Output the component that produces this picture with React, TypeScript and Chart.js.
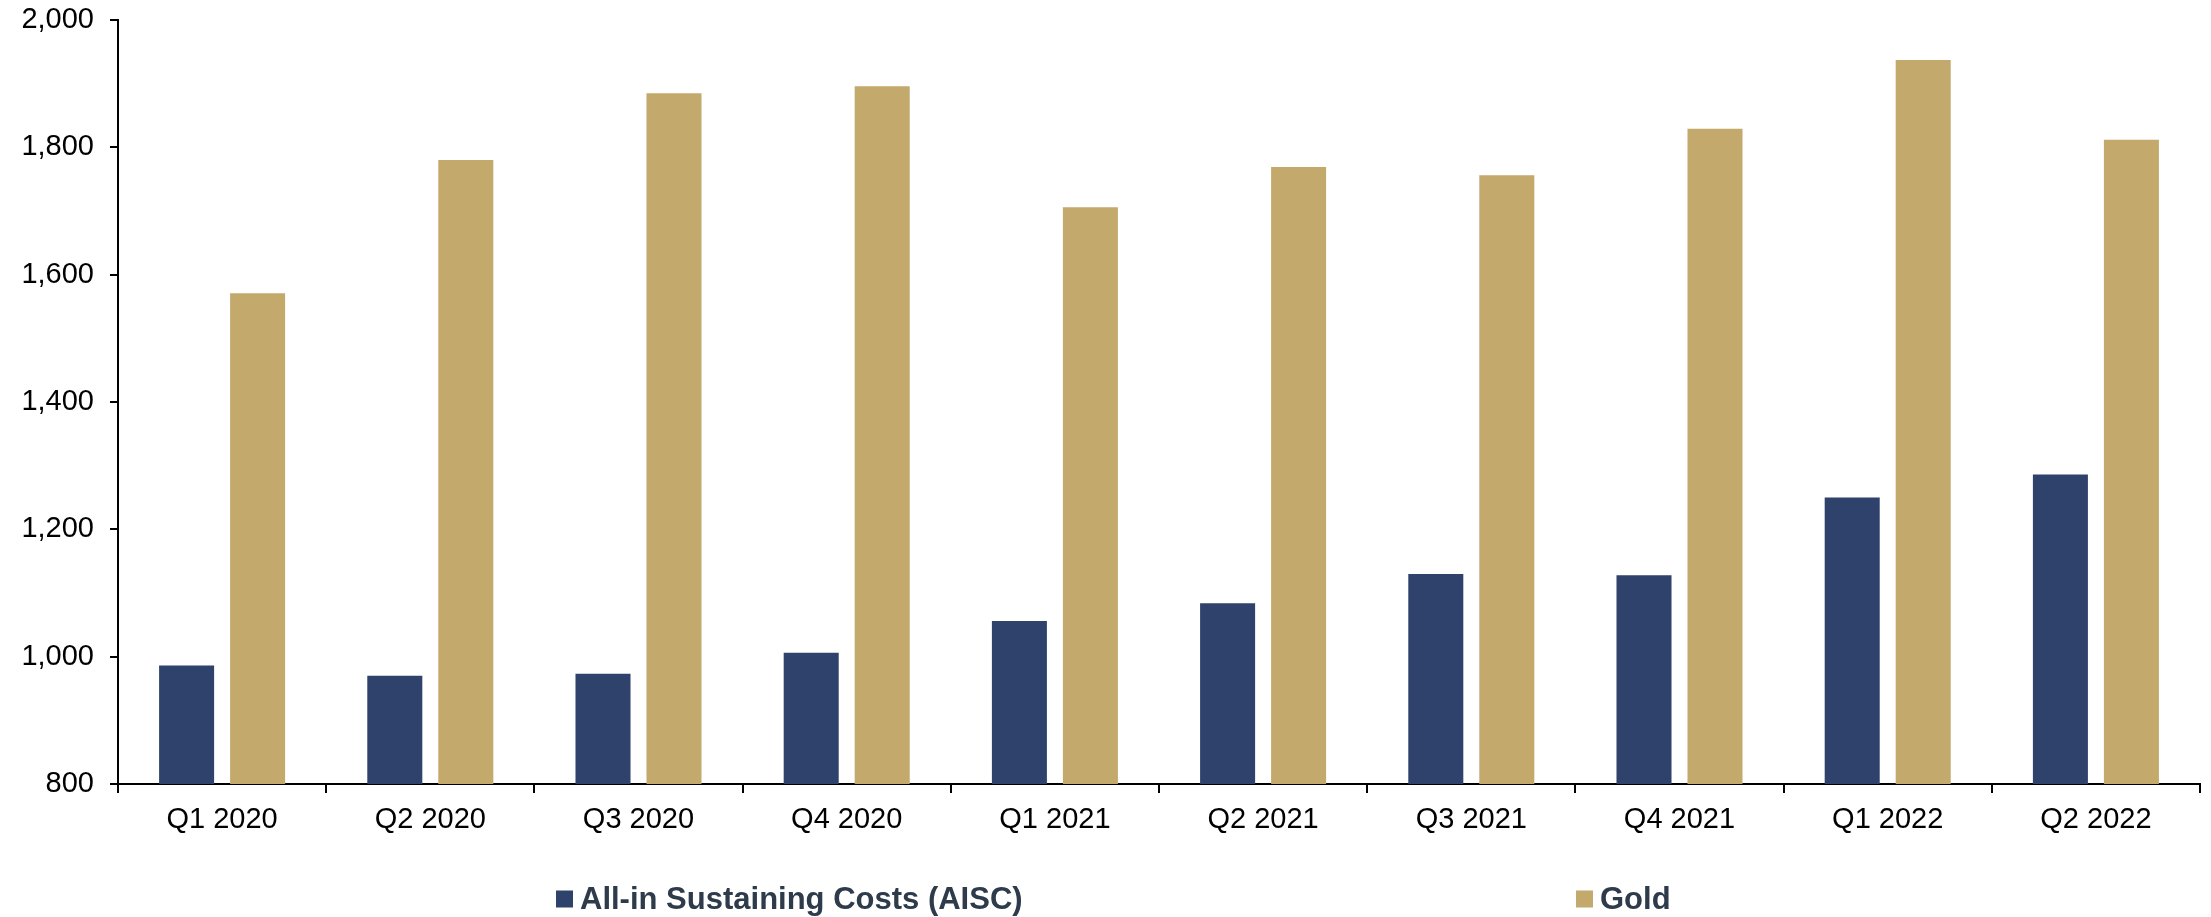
import React, { useEffect, useRef } from "react";
import { Chart, registerables } from "chart.js";

Chart.register(...registerables);

const categories = [
  "Q1 2020", "Q2 2020", "Q3 2020", "Q4 2020", "Q1 2021",
  "Q2 2021", "Q3 2021", "Q4 2021", "Q1 2022", "Q2 2022",
];
const aiscValues = [986, 970, 973, 1006, 1056, 1084, 1130, 1128, 1250, 1286];
const goldValues = [1571, 1780, 1885, 1896, 1706, 1769, 1756, 1829, 1937, 1812];
const seriesLabels = ["All-in Sustaining Costs (AISC)", "Gold"];
const seriesColors = ["#2E426B", "#C3A96C"];
const yMin = 800;
const yMax = 2000;
const yStep = 200;

const FONT = "'Liberation Sans', Arial, sans-serif";

const spreadLegend = {
  id: "spreadLegend",
  afterDraw(chart: any) {
    const { ctx, chartArea } = chart;
    const w = chart.width;
    const positions = [0.2515, 0.7128];
    const boxSize = 17;
    const yMid = chartArea.bottom + 115;
    ctx.save();
    ctx.font = `bold 31px ${FONT}`;
    ctx.textBaseline = "middle";
    ctx.textAlign = "left";
    chart.data.datasets.forEach((ds: any, i: number) => {
      const x = Math.round(w * positions[i]);
      ctx.fillStyle = ds.backgroundColor;
      ctx.fillRect(x, yMid - boxSize / 2, boxSize, boxSize);
      ctx.fillStyle = "#2D3B4B";
      ctx.fillText(ds.label, x + boxSize + 7, yMid + 1);
    });
    ctx.restore();
  },
};

export default function App() {
  const canvasRef = useRef<HTMLCanvasElement | null>(null);

  useEffect(() => {
    document.body.style.margin = "0";
    document.body.style.overflow = "hidden";
    const canvas = canvasRef.current;
    if (!canvas) return;
    const chart = new Chart(canvas, {
      type: "bar",
      data: {
        labels: categories,
        datasets: [
          {
            label: seriesLabels[0],
            data: aiscValues,
            backgroundColor: seriesColors[0],
            categoryPercentage: 0.682,
            barPercentage: 0.775,
          },
          {
            label: seriesLabels[1],
            data: goldValues,
            backgroundColor: seriesColors[1],
            categoryPercentage: 0.682,
            barPercentage: 0.775,
          },
        ],
      },
      options: {
        animation: false,
        responsive: false,
        devicePixelRatio: 1,
        layout: { padding: { top: 20, right: 11, bottom: 73, left: 0 } },
        plugins: {
          legend: { display: false },
          tooltip: { enabled: false },
          title: { display: false },
        },
        scales: {
          x: {
            offset: true,
            grid: {
              offset: true,
              drawOnChartArea: false,
              drawTicks: true,
              tickLength: 9,
              color: "#000",
              lineWidth: 2,
            },
            border: { display: true, color: "#000", width: 2 },
            ticks: {
              color: "#000",
              font: { family: FONT, size: 29 },
              padding: 10,
              maxRotation: 0,
              autoSkip: false,
            },
            afterFit: (scale: any) => {
              scale.height = 60;
              scale.paddingLeft = 0;
              scale.paddingRight = 0;
            },
          },
          y: {
            min: yMin,
            max: yMax,
            grid: {
              drawOnChartArea: false,
              drawTicks: true,
              tickLength: 8,
              color: "#000",
              lineWidth: 2,
            },
            border: { display: true, color: "#000", width: 2 },
            ticks: {
              stepSize: yStep,
              color: "#000",
              font: { family: FONT, size: 29 },
              padding: 16,
              callback: (v: any) => Number(v).toLocaleString("en-US"),
            },
            afterFit: (scale: any) => {
              scale.width = 118;
              scale.paddingTop = 0;
              scale.paddingBottom = 0;
            },
          },
        },
      },
      plugins: [spreadLegend],
    });
    return () => chart.destroy();
  }, []);

  return (
    <div style={{ width: 2211, height: 917, position: "relative", background: "#fff" }}>
      <canvas ref={canvasRef} width={2211} height={917} style={{ display: "block" }} />
    </div>
  );
}
